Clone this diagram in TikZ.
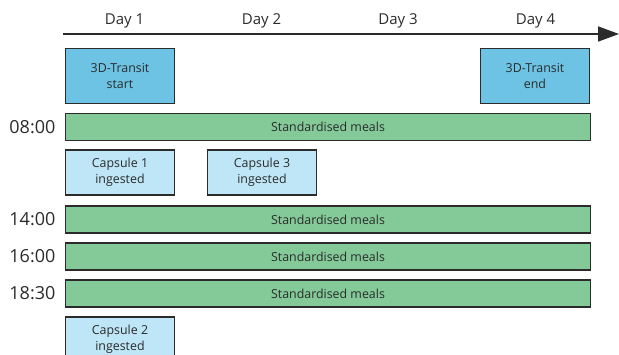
\documentclass[tikz,border=0pt]{standalone}
\usepackage{fontspec}
\setmainfont{Open Sans}
\usetikzlibrary{arrows.meta,positioning}
\definecolor{transitblue}{HTML}{6CC3E4}
\definecolor{capsuleblue}{HTML}{BEE6F7}
\definecolor{mealgreen}{HTML}{83CA98}
\definecolor{edgegray}{HTML}{2B2B2B}

\begin{document}
\begin{tikzpicture}[x=1pt, y=-1pt,
  {every node/.append style}={inner sep=0pt, text=edgegray},
  box/.style={rectangle, draw=edgegray, line width=1.8pt, minimum width=109pt, align=center, font=\fontsize{12.4}{16.5}\selectfont},
  transit/.style={box, fill=transitblue, minimum height=55pt},
  capsule/.style={box, fill=capsuleblue, minimum height=45pt},
  meal/.style={box, fill=mealgreen, minimum width=525pt, minimum height=27pt},
  daylabel/.style={font=\fontsize{15}{17}\selectfont},
  timelabel/.style={font=\fontsize{18}{20}\selectfont}]

\useasboundingbox (0, 0) rectangle (619, 355);

\node [daylabel] (day1) at (124.5, 21) {Day 1};
\node [daylabel] (day2) at (261.5, 21) {Day 2};
\node [daylabel] (day3) at (398, 21) {Day 3};
\node [daylabel] (day4) at (535.5, 21) {Day 4};

\coordinate (axisstart) at (63, 34);
\coordinate (axisend) at (619, 34);

\node [transit] (transitstart) at (120, 76) {3D-Transit\\start};
\node [transit] (transitend) at (535, 76) {3D-Transit\\end};

\node [meal] (meal08) at (328, 127) {Standardised meals};
\node [capsule] (cap1) at (120, 172.5) {Capsule 1\\ingested};
\node [capsule] (cap3) at (262, 172.5) {Capsule 3\\ingested};
\node [meal] (meal14) at (328, 219.5) {Standardised meals};
\node [meal] (meal16) at (328, 256.5) {Standardised meals};
\node [meal] (meal18) at (328, 293.5) {Standardised meals};
\node [capsule] (cap2) at (120, 339.5) {Capsule 2\\ingested};

\node [timelabel, left=9pt of meal08] (t08) {08:00};
\node [timelabel, left=9pt of meal14] (t14) {14:00};
\node [timelabel, left=9pt of meal16] (t16) {16:00};
\node [timelabel, left=9pt of meal18] (t18) {18:30};


\draw [-{Triangle[length=21pt, width=15pt]}, line width=1.6pt, draw=edgegray] (axisstart) -- (axisend);


\end{tikzpicture}
\end{document}
